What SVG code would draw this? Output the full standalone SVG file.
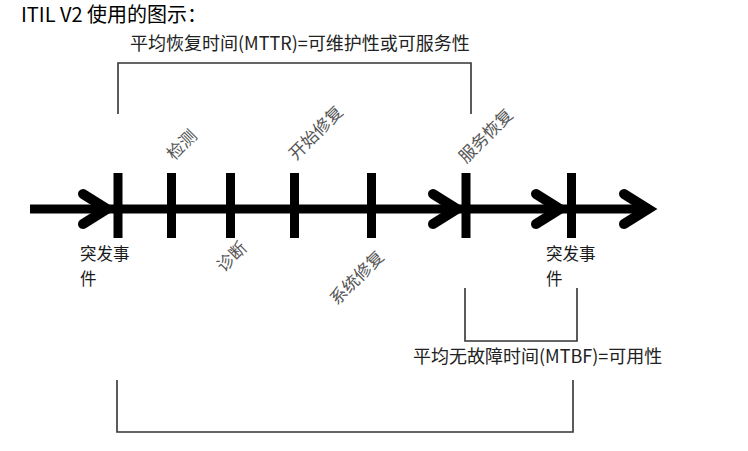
<svg xmlns="http://www.w3.org/2000/svg" width="748" height="451" viewBox="0 0 748 451">
<style>
text{font-family:"Noto Sans CJK SC","Noto Sans",sans-serif}
.title{font-size:20px;fill:#000}
.cap{font-size:18px;fill:#222}
.ev{font-size:16.5px;fill:#1a1a1a}
.rot{font-size:17px;fill:#555}
.br{fill:none;stroke:#333;stroke-width:1.6}
.axis{stroke:#000;stroke-width:9;fill:none}
.chev{stroke:#000;stroke-width:10;fill:none;stroke-linecap:round;stroke-linejoin:miter}
.tick{stroke:#000;stroke-width:9}
</style>
<rect width="748" height="451" fill="#fff"/>
<g id="title"><text class="title" x="21" y="22">ITIL V2 使用的图示：</text></g>
<g id="mttr">
<text class="cap" x="130" y="50">平均恢复时间(MTTR)=可维护性或可服务性</text>
<path class="br" d="M118,114 V63 H471 V114"/>
</g>
<g id="mtbf-small">
<path class="br" d="M465,288 V341 H577 V288"/>
<text class="cap" x="413" y="363">平均无故障时间(MTBF)=可用性</text>
</g>
<g id="mtbf-big">
<path class="br" d="M117,380 V432 H573 V380"/>
</g>
<g id="connectors">
<line class="axis" x1="30" y1="209" x2="650" y2="209"/>
<path class="chev" d="M83,194 L107,209 L83,224"/>
<path class="chev" d="M433,194 L457,209 L433,224"/>
<path class="chev" d="M536,194 L560,209 L536,224"/>
<path class="chev" d="M624,194 L648,209 L624,224"/>
</g>
<g id="ticks">
<line class="tick" x1="118" y1="173" x2="118" y2="238"/>
<line class="tick" x1="171.5" y1="173" x2="171.5" y2="238"/>
<line class="tick" x1="230.5" y1="173" x2="230.5" y2="238"/>
<line class="tick" x1="294.5" y1="173" x2="294.5" y2="238"/>
<line class="tick" x1="371.5" y1="173" x2="371.5" y2="238"/>
<line class="tick" x1="466" y1="173" x2="466" y2="238"/>
<line class="tick" x1="571.5" y1="173" x2="571.5" y2="238"/>
</g>
<g id="event1"><text class="ev" x="80" y="260">突发事</text><text class="ev" x="80" y="285">件</text></g>
<g id="event2"><text class="ev" x="546" y="260">突发事</text><text class="ev" x="546" y="285">件</text></g>
<g id="detect"><text class="rot" transform="translate(174,161) rotate(-45)">检测</text></g>
<g id="start-repair"><text class="rot" transform="translate(296,161) rotate(-45)">开始修复</text></g>
<g id="restore"><text class="rot" transform="translate(466,164) rotate(-45)">服务恢复</text></g>
<g id="diagnose"><text class="rot" transform="translate(224,273) rotate(-45)">诊断</text></g>
<g id="sys-repair"><text class="rot" transform="translate(337,306) rotate(-45)">系统修复</text></g>
</svg>
